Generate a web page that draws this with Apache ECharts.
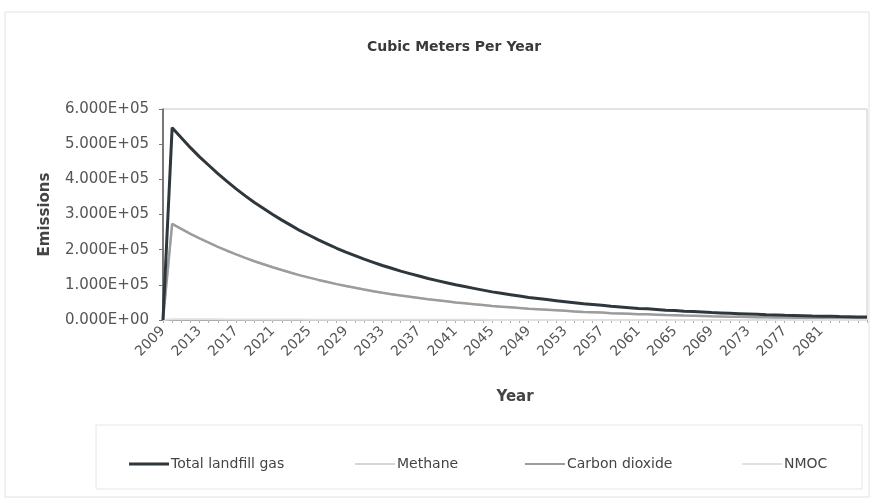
<!DOCTYPE html>
<html>
<head>
<meta charset="utf-8">
<title>Cubic Meters Per Year</title>
<script src="https://cdn.jsdelivr.net/npm/echarts@6/dist/echarts.min.js"></script>
<style>
  html, body { margin: 0; padding: 0; background: #fff; }
  #chart { width: 876px; height: 503px; }
</style>
</head>
<body>
<div id="chart"></div>
<script>
// years on the category axis
const years = [];
for (let y = 2009; y <= 2086; y++) years.push(String(y));

// (cubic meters per year)
const totalGas = [
  0, 547000, 518000, 490000, 464000, 440000, 416000, 394000, 373000, 353000,
  334000, 317000, 300000, 284000, 269000, 254000, 241000, 228000, 216000, 204000,
  193000, 183000, 173000, 164000, 155000, 147000, 139000, 132000, 125000, 118000,
  112000, 106000, 100000, 95000, 90000, 85000, 80000, 76000, 72000, 68000,
  64000, 61000, 58000, 55000, 52000, 49000, 46000, 44000, 42000, 39000,
  37000, 35000, 33000, 32000, 30000, 28000, 27000, 25000, 24000, 23000,
  21000, 20000, 19000, 18000, 17000, 16000, 15000, 14500, 13700, 13000,
  12300, 11600, 11000, 10400, 9800, 9300, 8800, 8300
];
const methane = [
  0, 273500, 259000, 245000, 232000, 220000, 208000, 197000, 186500, 176500,
  167000, 158500, 150000, 142000, 134500, 127000, 120500, 114000, 108000, 102000,
  96500, 91500, 86500, 82000, 77500, 73500, 69500, 66000, 62500, 59000,
  56000, 53000, 50000, 47500, 45000, 42500, 40000, 38000, 36000, 34000,
  32000, 30500, 29000, 27500, 26000, 24500, 23000, 22000, 21000, 19500,
  18500, 17500, 16500, 16000, 15000, 14000, 13500, 12500, 12000, 11500,
  10500, 10000, 9500, 9000, 8500, 8000, 7500, 7250, 6850, 6500,
  6150, 5800, 5500, 5200, 4900, 4650, 4400, 4150
];
const carbonDioxide = [
  0, 273500, 259000, 245000, 232000, 220000, 208000, 197000, 186500, 176500,
  167000, 158500, 150000, 142000, 134500, 127000, 120500, 114000, 108000, 102000,
  96500, 91500, 86500, 82000, 77500, 73500, 69500, 66000, 62500, 59000,
  56000, 53000, 50000, 47500, 45000, 42500, 40000, 38000, 36000, 34000,
  32000, 30500, 29000, 27500, 26000, 24500, 23000, 22000, 21000, 19500,
  18500, 17500, 16500, 16000, 15000, 14000, 13500, 12500, 12000, 11500,
  10500, 10000, 9500, 9000, 8500, 8000, 7500, 7250, 6850, 6500,
  6150, 5800, 5500, 5200, 4900, 4650, 4400, 4150
];
const nmoc = [
  0, 2350, 2230, 2110, 2000, 1890, 1790, 1700, 1600, 1520,
  1440, 1360, 1290, 1220, 1160, 1090, 1040, 980, 930, 880,
  830, 790, 740, 700, 670, 630, 600, 570, 540, 510,
  480, 460, 430, 410, 390, 370, 340, 330, 310, 290,
  280, 260, 250, 240, 220, 210, 200, 190, 180, 170,
  160, 150, 140, 140, 130, 120, 120, 110, 100, 100,
  90, 90, 80, 80, 70, 70, 60, 60, 60, 60,
  50, 50, 50, 40, 40, 40, 40, 40
];

// last year that gets a tick label in the reference
const lastLabelYear = '2081';

const FONT = 'DejaVu Sans';

// 6.000E+05 style labels
function sci(v) {
  const parts = v.toExponential(3).split('e');
  const n = parseInt(parts[1], 10);
  return parts[0] + 'E' + (n < 0 ? '-' : '+') + String(Math.abs(n)).padStart(2, '0');
}

// one legend per entry so each sits where the reference puts it
function legendAt(name, left, thick) {
  return {
    data: [name],
    left: left,
    top: 452,
    icon: 'rect',
    itemWidth: 40,
    itemHeight: thick,
    textStyle: { fontFamily: FONT, fontSize: 14, color: '#444', padding: [0, 0, 0, -3] }
  };
}

const lastLabelIndex = years.indexOf(lastLabelYear);

const chartInstance = echarts.init(document.getElementById('chart'));

const option = {
  backgroundColor: '#fff',
  animation: false,
  title: {
    text: 'Cubic Meters Per Year',
    left: 449,
    top: 35,
    textAlign: 'center',
    textStyle: { fontFamily: FONT, fontSize: 14, fontWeight: 'bold', color: '#3a3a3a' }
  },
  graphic: [
    {
      type: 'rect',
      shape: { x: 5, y: 12, width: 864, height: 485 },
      style: { fill: 'none', stroke: '#e2e2e2', lineWidth: 1 },
      silent: true
    },
    {
      type: 'rect',
      shape: { x: 96, y: 425, width: 766, height: 64 },
      style: { fill: 'none', stroke: '#e6e6e6', lineWidth: 1 },
      silent: true
    }
  ],
  legend: [
    legendAt('Total landfill gas', 124, 3),
    legendAt('Methane', 350, 2),
    legendAt('Carbon dioxide', 520, 2),
    legendAt('NMOC', 737, 2)
  ],
  grid: {
    left: 163,
    right: 9,
    top: 109,
    bottom: 183,
    show: true,
    borderColor: '#c8c8c8',
    borderWidth: 1
  },
  xAxis: {
    type: 'category',
    data: years,
    boundaryGap: false,
    name: 'Year',
    nameLocation: 'middle',
    nameGap: 70,
    nameTextStyle: { fontFamily: FONT, fontSize: 15, fontWeight: 'bold', color: '#444' },
    axisLine: { lineStyle: { color: '#9a9a9a', width: 1 } },
    axisTick: { show: true, interval: 0, length: 3, lineStyle: { color: '#b0b0b0' } },
    axisLabel: {
      interval: function (index) {
        return index % 4 === 0 && index <= lastLabelIndex;
      },
      rotate: 45,
      margin: 9,
      fontFamily: FONT,
      fontSize: 14,
      color: '#555'
    },
    splitLine: { show: false }
  },
  yAxis: {
    type: 'value',
    min: 0,
    max: 600000,
    interval: 100000,
    name: 'Emissions',
    nameLocation: 'middle',
    nameGap: 110,
    nameTextStyle: { fontFamily: FONT, fontSize: 15, fontWeight: 'bold', color: '#444' },
    axisLine: { show: true, lineStyle: { color: '#555', width: 1.5 } },
    axisTick: { show: true, length: 4, lineStyle: { color: '#777' } },
    axisLabel: {
      formatter: sci,
      margin: 14,
      fontFamily: FONT,
      fontSize: 15,
      color: '#555'
    },
    splitLine: { show: false }
  },
  series: [
    {
      name: 'Total landfill gas',
      type: 'line',
      data: totalGas,
      symbol: 'none',
      z: 5,
      lineStyle: { color: '#2e373c', width: 3 },
      itemStyle: { color: '#2e373c' }
    },
    {
      name: 'Methane',
      type: 'line',
      data: methane,
      symbol: 'none',
      z: 2,
      lineStyle: { color: '#d6d6d6', width: 2 },
      itemStyle: { color: '#d6d6d6' }
    },
    {
      name: 'Carbon dioxide',
      type: 'line',
      data: carbonDioxide,
      symbol: 'none',
      z: 3,
      lineStyle: { color: '#9c9c9c', width: 2.5 },
      itemStyle: { color: '#9c9c9c' }
    },
    {
      name: 'NMOC',
      type: 'line',
      data: nmoc,
      symbol: 'none',
      z: 4,
      lineStyle: { color: '#e0e0e0', width: 2 },
      itemStyle: { color: '#e0e0e0' }
    }
  ]
};

chartInstance.setOption(option);
</script>
</body>
</html>
